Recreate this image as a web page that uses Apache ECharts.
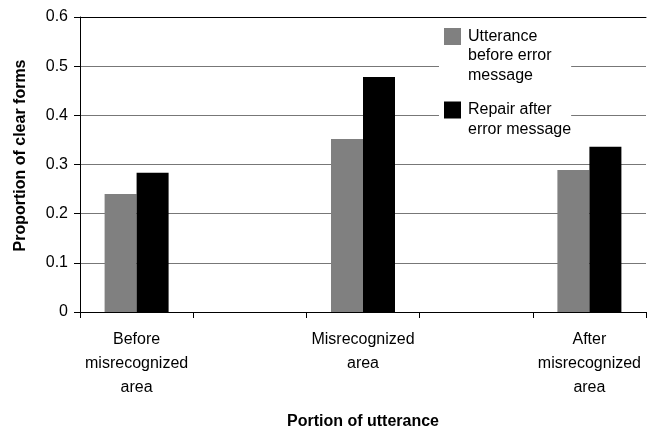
<!DOCTYPE html>
<html>
<head>
<meta charset="utf-8">
<script src="https://cdn.jsdelivr.net/npm/echarts@6/dist/echarts.min.js"></script>
<style>
  html, body { margin: 0; padding: 0; background: #fff; }
  #chart { width: 652px; height: 430px; }
</style>
</head>
<body>
<div id="chart"></div>
<script>
// categories (empty slots between the three groups)
const categories = ["Before\nmisrecognized\narea", "", "Misrecognized\narea", " ", "After\nmisrecognized\narea"]
const seriesNames = ["Utterance\nbefore error\nmessage", "Repair after\nerror message"]
const beforeError = [0.24, null, 0.352, null, 0.289]
const repairAfter = [0.283, null, 0.478, null, 0.336]

const font = "'Liberation Sans', Arial, sans-serif"

const chart = echarts.init(document.getElementById("chart"))

// legend text: square box on the first line, rest indented
const legendFormatter = function (name) {
  const lines = name.split("\n")
  const box = name === seriesNames[0] ? "g" : "k"
  return lines.map((l, i) => (i === 0 ? "{" + box + "|}" : "{s|}") + "{t|" + l + "}").join("\n")
}

const option = {
  backgroundColor: "#fff",
  animation: false,
  textStyle: { fontFamily: font },
  grid: { left: 80, right: 6, top: 17, bottom: 118, outerBoundsMode: "none" },
  legend: {
    orient: "vertical",
    left: 439,
    top: 22,
    padding: [6, 0, 6, 0],
    itemGap: 18,
    itemWidth: 0,
    itemHeight: 0,
    backgroundColor: "#fff",
    data: seriesNames,
    formatter: legendFormatter,
    selectedMode: false,
    textStyle: {
      fontFamily: font,
      fontSize: 16,
      color: "#000",
      rich: {
        g: { width: 17, height: 17, backgroundColor: "#808080", lineHeight: 19.5 },
        k: { width: 17, height: 17, backgroundColor: "#000", lineHeight: 19.5 },
        s: { width: 17, lineHeight: 19.5 },
        t: { fontFamily: font, fontSize: 16, color: "#000", padding: [0, 0, 0, 7], lineHeight: 19.5 }
      }
    }
  },
  xAxis: [
    {
      type: "category",
      data: categories,
      name: "Portion of utterance",
      nameLocation: "middle",
      nameGap: 102,
      nameTextStyle: { fontFamily: font, fontSize: 16, fontWeight: "bold", color: "#000" },
      axisLine: { lineStyle: { color: "#000", width: 1 } },
      axisTick: { show: true, length: 6, lineStyle: { color: "#000" } },
      axisLabel: { interval: 0, fontSize: 16, color: "#000", lineHeight: 24, margin: 16, fontFamily: font },
      splitLine: { show: false }
    },
    {
      type: "category",
      data: categories,
      position: "top",
      axisLine: { lineStyle: { color: "#000", width: 1 } },
      axisTick: { show: false },
      axisLabel: { show: false },
      splitLine: { show: false }
    }
  ],
  yAxis: {
    type: "value",
    min: 0,
    max: 0.6,
    interval: 0.1,
    name: "Proportion of clear forms",
    nameLocation: "middle",
    nameGap: 51,
    nameTextStyle: { fontFamily: font, fontSize: 16, fontWeight: "bold", color: "#000", padding: [0, 0, 0, 18] },
    axisLine: { show: true, lineStyle: { color: "#000", width: 1 } },
    axisTick: { show: true, length: 6, lineStyle: { color: "#000" } },
    axisLabel: { fontSize: 16, color: "#000", margin: 12, fontFamily: font },
    splitLine: { show: true, lineStyle: { color: "#777", width: 1 } }
  },
  series: [
    {
      name: seriesNames[0],
      type: "bar",
      data: beforeError,
      barWidth: 32,
      barGap: "0%",
      itemStyle: { color: "#808080" }
    },
    {
      name: seriesNames[1],
      type: "bar",
      data: repairAfter,
      barWidth: 32,
      barGap: "0%",
      itemStyle: { color: "#000" }
    }
  ]
}

chart.setOption(option)
</script>
</body>
</html>
